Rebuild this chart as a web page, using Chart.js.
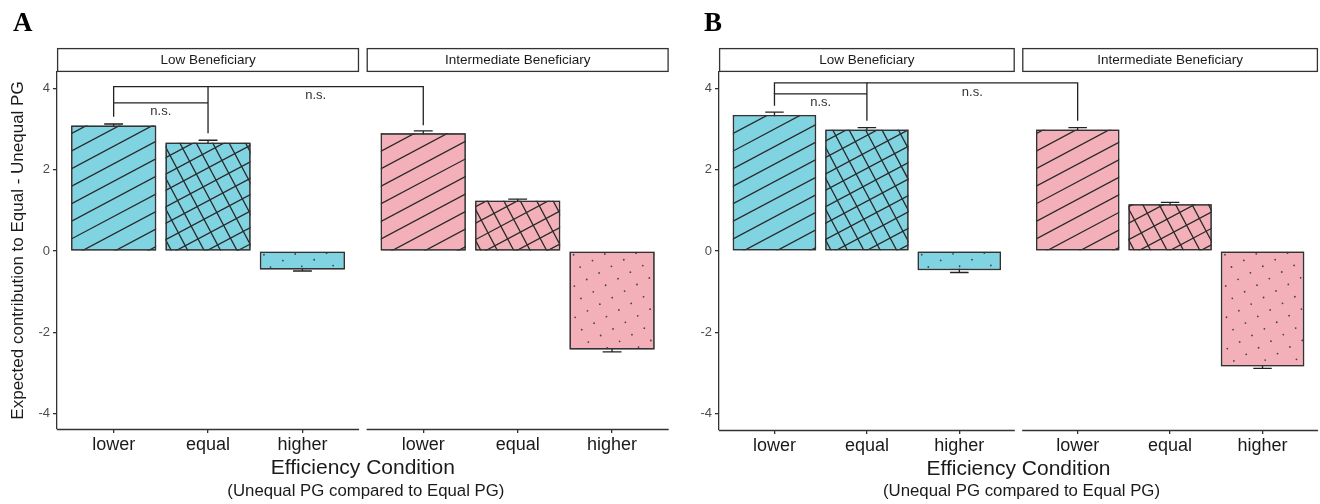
<!DOCTYPE html>
<html><head><meta charset="utf-8">
<script src="https://cdn.jsdelivr.net/npm/chart.js@4.4.1/dist/chart.umd.min.js"></script>
<style>
html,body{margin:0;padding:0;background:#fff;}
#wrap{position:relative;width:1320px;height:504px;overflow:hidden;background:#fff;}
canvas{position:absolute;top:0;}
</style></head><body>
<div id="wrap">
<canvas id="chartA" width="672" height="504" style="left:0px;width:672px;height:504px"></canvas>
<canvas id="chartB" width="648" height="504" style="left:672px;width:648px;height:504px"></canvas>
</div>
<script>
// ---------- data ----------
const conditions = ['lower', 'equal', 'higher'];
const facetNames = ['Low Beneficiary', 'Intermediate Beneficiary'];
const yTickValues = [-4, -2, 0, 2, 4];
const patternNames = ['stripe', 'crosshatch', 'dots'];
const facetColors = ['#80d3e1', '#f4b0b9'];

const meanA_low = [3.09, 2.67, -0.45];
const meanA_int = [2.90, 1.24, -2.42];
const seA_low = [0.04, 0.06, 0.04];
const seA_int = [0.06, 0.04, 0.06];

const meanB_low = [3.35, 2.99, -0.47];
const meanB_int = [2.99, 1.15, -2.84];
const seB_low = [0.07, 0.05, 0.06];
const seB_int = [0.05, 0.05, 0.05];

// significance brackets: [facet, condition] references, values in y units
const sigA = [
  { from: [0, 0], to: [0, 1], y: 3.65, tipFrom: 3.31, tipTo: 3.65, label: 'n.s.' },
  { from: [0, 0], to: [0, 1], y: 4.05, tipFrom: 3.65, tipTo: 2.90, label: '' },
  { from: [0, 1], to: [1, 0], y: 4.05, tipFrom: 4.05, tipTo: 3.10, label: 'n.s.' }
];
const sigB = [
  { from: [0, 0], to: [0, 1], y: 3.87, tipFrom: 3.58, tipTo: 3.87, label: 'n.s.' },
  { from: [0, 0], to: [0, 1], y: 4.14, tipFrom: 3.87, tipTo: 3.21, label: '' },
  { from: [0, 1], to: [1, 0], y: 4.14, tipFrom: 4.14, tipTo: 3.21, label: 'n.s.' }
];

// ---------- layout helpers ----------
const FACET_SHIFT = 3.28;          // facet offset on the x axis (3 categories + gap)
const FACET_EXPAND = 0.6;
function pos(f, c) { return f * FACET_SHIFT + c + 1; }
function facetBounds(f) { return [pos(f, 0) - FACET_EXPAND, pos(f, 2) + FACET_EXPAND]; }

const SANS = '"Liberation Sans", Arial, Helvetica, sans-serif';
Chart.defaults.font.family = SANS;
const INK = '#333333';

function drawLineSet(ctx, l, t, r, b, angleDeg, spacing) {
  const a = angleDeg * Math.PI / 180;
  const dx = Math.cos(a), dy = -Math.sin(a);
  const nx = Math.sin(a), ny = Math.cos(a);
  const diag = Math.hypot(r - l, b - t);
  const n = Math.ceil(diag / spacing) + 1;
  const ox = l, oy = b;
  ctx.beginPath();
  for (let k = -n; k <= n; k++) {
    const px = ox + nx * k * spacing + nx * spacing * 0.35;
    const py = oy + ny * k * spacing + ny * spacing * 0.35;
    ctx.moveTo(px - dx * diag * 1.2, py - dy * diag * 1.2);
    ctx.lineTo(px + dx * diag * 1.2, py + dy * diag * 1.2);
  }
  ctx.stroke();
}
function drawDots(ctx, l, t, r, b, angleDeg, spacing) {
  const a = angleDeg * Math.PI / 180;
  const dx = Math.cos(a), dy = -Math.sin(a);
  const nx = Math.sin(a), ny = Math.cos(a);
  const diag = Math.hypot(r - l, b - t);
  const n = Math.ceil(diag / spacing) + 2;
  ctx.fillStyle = '#444';
  for (let i = -n; i <= n; i++) {
    for (let j = -n; j <= n; j++) {
      const px = l + 4 + dx * i * spacing + nx * j * spacing;
      const py = t + 3 + dy * i * spacing + ny * j * spacing;
      if (px < l + 1 || px > r - 1 || py < t + 1 || py > b - 1) continue;
      ctx.beginPath();
      ctx.arc(px, py, 0.9, 0, Math.PI * 2);
      ctx.fill();
    }
  }
}

function makePanel(canvasId, meansLow, meansInt, seLow, seInt, sig, opt) {
  const means = meansLow.concat(meansInt);
  const ses = seLow.concat(seInt);
  const points = [];
  const colors = [];
  [0, 1].forEach(f => conditions.forEach((c, i) => {
    points.push({ x: pos(f, i), y: (f === 0 ? meansLow : meansInt)[i] });
    colors.push(facetColors[f]);
  }));
  const tickPositions = points.map(p => p.x);

  const decor = {
    id: 'panelDecor',
    beforeDatasetsDraw(chart) {
      const ctx = chart.ctx, xs = chart.scales.x, ys = chart.scales.y;
      const meta = chart.getDatasetMeta(0);
      const unit = xs.getPixelForValue(2) - xs.getPixelForValue(1);
      ctx.save();
      ctx.strokeStyle = '#222';
      ctx.lineWidth = 1.3;
      meta.data.forEach((el, i) => {
        const x = el.x;
        const y1 = ys.getPixelForValue(means[i] + ses[i]);
        const y2 = ys.getPixelForValue(means[i] - ses[i]);
        const hw = unit * 0.1;
        ctx.beginPath();
        ctx.moveTo(x, y1); ctx.lineTo(x, y2);
        ctx.moveTo(x - hw, y1); ctx.lineTo(x + hw, y1);
        ctx.moveTo(x - hw, y2); ctx.lineTo(x + hw, y2);
        ctx.stroke();
      });
      ctx.restore();
    },
    afterDatasetsDraw(chart) {
      const ctx = chart.ctx;
      const meta = chart.getDatasetMeta(0);
      meta.data.forEach((el, i) => {
        const p = el.getProps(['x', 'y', 'base', 'width'], true);
        const l = p.x - p.width / 2, r = p.x + p.width / 2;
        const t = Math.min(p.y, p.base), b = Math.max(p.y, p.base);
        const kind = patternNames[i % 3];
        ctx.save();
        ctx.beginPath();
        ctx.rect(l, t, r - l, b - t);
        ctx.clip();
        ctx.strokeStyle = '#2a2a2a';
        ctx.lineWidth = 1.3;
        if (kind === 'stripe') {
          drawLineSet(ctx, l, t, r, b, 28, 15.5);
        } else if (kind === 'crosshatch') {
          drawLineSet(ctx, l, t, r, b, 28, 14.5);
          drawLineSet(ctx, l, t, r, b, 118, 14.5);
        } else {
          drawDots(ctx, l, t, r, b, 28, 14);
        }
        ctx.restore();
        ctx.save();
        ctx.strokeStyle = INK;
        ctx.lineWidth = 1.3;
        ctx.strokeRect(l + 0.6, t + 0.6, r - l - 1.2, b - t - 1.2);
        ctx.restore();
      });
    },
    afterDraw(chart) {
      const ctx = chart.ctx, xs = chart.scales.x, ys = chart.scales.y;
      const area = chart.chartArea;
      ctx.save();
      // facet strips and x-axis segments
      [0, 1].forEach(f => {
        const [a, b] = facetBounds(f);
        const l = xs.getPixelForValue(a), r = xs.getPixelForValue(b);
        ctx.strokeStyle = INK;
        ctx.lineWidth = 1.3;
        ctx.fillStyle = '#ffffff';
        ctx.fillRect(l, 48, r - l, area.top - 48);
        ctx.strokeRect(l + 0.6, 48.6, r - l - 1.2, area.top - 48 - 1.2);
        ctx.fillStyle = '#1a1a1a';
        ctx.font = '13.5px ' + SANS;
        ctx.textAlign = 'center';
        ctx.textBaseline = 'middle';
        ctx.fillText(facetNames[f], (l + r) / 2, 60.5);
        ctx.beginPath();
        ctx.moveTo(l, area.bottom + 0.5);
        ctx.lineTo(r, area.bottom + 0.5);
        ctx.stroke();
      });
      // significance brackets
      ctx.strokeStyle = '#222';
      ctx.lineWidth = 1.3;
      ctx.fillStyle = '#333';
      ctx.font = '13px ' + SANS;
      sig.forEach(s => {
        const x1 = xs.getPixelForValue(pos(s.from[0], s.from[1]));
        const x2 = xs.getPixelForValue(pos(s.to[0], s.to[1]));
        const y = ys.getPixelForValue(s.y);
        ctx.beginPath();
        ctx.moveTo(x1, ys.getPixelForValue(s.tipFrom));
        ctx.lineTo(x1, y);
        ctx.lineTo(x2, y);
        ctx.lineTo(x2, ys.getPixelForValue(s.tipTo));
        ctx.stroke();
        if (s.label) {
          ctx.textAlign = 'center';
          ctx.textBaseline = 'middle';
          ctx.fillText(s.label, (x1 + x2) / 2, y + 9);
        }
      });
      // panel letter
      ctx.fillStyle = '#000';
      ctx.font = 'bold 27px "Liberation Serif", "Times New Roman", serif';
      ctx.textAlign = 'left';
      ctx.textBaseline = 'alphabetic';
      ctx.fillText(opt.letter, opt.letterX, 31);
      // subtitle under the x axis title
      ctx.fillStyle = '#1a1a1a';
      ctx.font = '16.8px ' + SANS;
      ctx.textAlign = 'center';
      ctx.textBaseline = 'middle';
      ctx.fillText('(Unequal PG compared to Equal PG)', (area.left + area.right) / 2 + 3, 491);
      ctx.restore();
    }
  };

  return new Chart(document.getElementById(canvasId), {
    type: 'bar',
    data: {
      datasets: [{
        data: points,
        backgroundColor: colors,
        borderColor: INK,
        borderWidth: 1.3,
        borderSkipped: false,
        categoryPercentage: 1.0,
        barPercentage: 0.9
      }]
    },
    options: {
      responsive: false,
      animation: false,
      events: [],
      layout: { padding: { top: 72, left: 0, right: opt.padRight, bottom: 0 } },
      plugins: { legend: { display: false }, tooltip: { enabled: false }, title: { display: false } },
      scales: {
        x: {
          type: 'linear',
          min: facetBounds(0)[0],
          max: facetBounds(1)[1],
          offset: false,
          afterBuildTicks: (scale) => { scale.ticks = tickPositions.map(v => ({ value: v })); },
          afterFit: (scale) => { scale.height = opt.xHeight; },
          ticks: {
            autoSkip: false, maxRotation: 0, padding: 1,
            color: '#1a1a1a', font: { size: 18 },
            callback: (v, i) => conditions[i % 3]
          },
          grid: { display: true, offset: false, drawOnChartArea: false, drawTicks: true, tickLength: 4, color: INK, lineWidth: 1.3 },
          border: { display: false },
          title: {
            display: true, text: 'Efficiency Condition', color: '#1a1a1a',
            font: { size: 21 }, padding: { top: 0, bottom: opt.xHeight - 39 - 12.6 }
          }
        },
        y: {
          min: opt.yMin, max: opt.yMax,
          afterBuildTicks: (scale) => { scale.ticks = yTickValues.map(v => ({ value: v })); },
          afterFit: (scale) => { scale.width = opt.yWidth; },
          ticks: { color: '#4d4d4d', font: { size: 13 }, padding: 3 },
          grid: { display: true, drawOnChartArea: false, drawTicks: true, tickLength: 4, color: INK, lineWidth: 1.3 },
          border: { display: true, color: INK, width: 1.3 },
          title: {
            display: opt.yTitle, text: 'Expected contribution to Equal - Unequal PG',
            color: '#1a1a1a', font: { size: 17 }, padding: { top: 8, bottom: 0 }
          }
        }
      }
    },
    plugins: [decor]
  });
}

makePanel('chartA', meanA_low, meanA_int, seA_low, seA_int, sigA,
  { letter: 'A', letterX: 13, padRight: 3.3, yWidth: 57, xHeight: 75, yMin: -4.38, yMax: 4.41, yTitle: true });
makePanel('chartB', meanB_low, meanB_int, seB_low, seB_int, sigB,
  { letter: 'B', letterX: 32, padRight: 2, yWidth: 47, xHeight: 74, yMin: -4.41, yMax: 4.41, yTitle: false });
</script>
</body></html>
